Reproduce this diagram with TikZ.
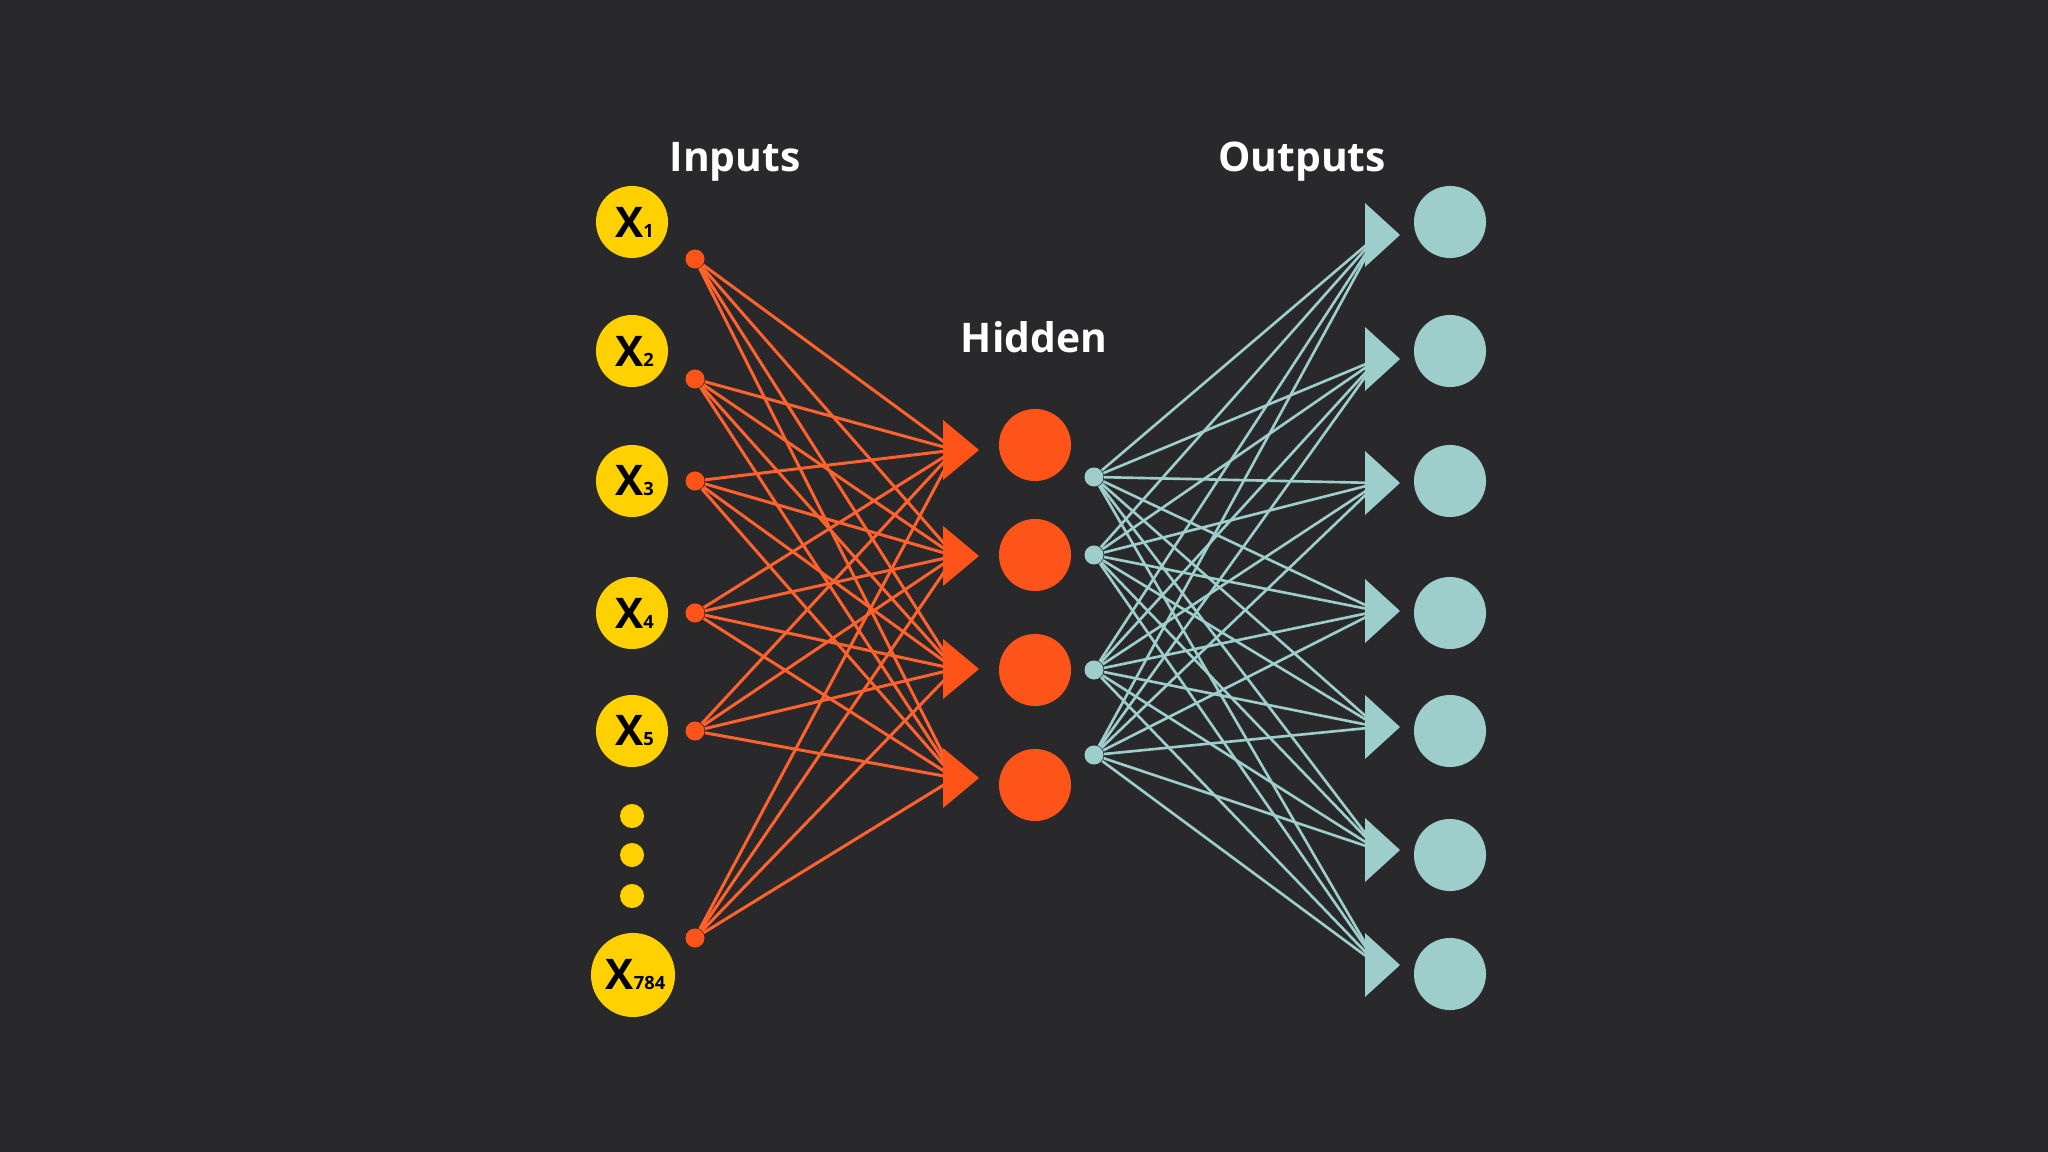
\documentclass[tikz,border=0pt]{standalone}
\usepackage{fontspec}
\setmainfont{Open Sans}
\definecolor{bg}{RGB}{41,41,43}
\definecolor{ylw}{RGB}{255,209,0}
\definecolor{org}{RGB}{255,84,25}
\definecolor{orgline}{RGB}{255,98,45}
\definecolor{tl}{RGB}{158,206,203}
\tikzset{
  inpnode/.style={circle,fill=ylw,minimum size=0.72cm,inner sep=0pt,text=black,font=\bfseries},
  dotnode/.style={circle,fill=ylw,minimum size=0.24cm,inner sep=0pt},
  odot/.style={circle,fill=org,minimum size=0.19cm,inner sep=0pt},
  tdot/.style={circle,fill=tl,minimum size=0.19cm,inner sep=0pt},
  hidnode/.style={circle,fill=org,minimum size=0.72cm,inner sep=0pt},
  outnode/.style={circle,fill=tl,minimum size=0.72cm,inner sep=0pt},
  olink/.style={draw=orgline,line width=0.85pt},
  tlink/.style={draw=tl,line width=0.75pt},
  title/.style={text=white,font=\fontsize{11.6}{14}\selectfont\bfseries,anchor=base,inner sep=0pt},
}
\newcommand{\xlab}[1]{\hspace*{0.05cm}{\fontsize{12}{12}\selectfont X}{\fontsize{5.2}{5.2}\selectfont #1}}
\begin{document}
\begin{tikzpicture}[x=0.01cm,y=-0.01cm]
\fill[bg] (0,0) rectangle (2048,1152);
\useasboundingbox (0,0) rectangle (2048,1152);

% titles
\node[title] (tin) at (735,172) {Inputs};
\node[title] (thid) at (1034,353) {Hidden};
\node[title] (tout) at (1302,172) {Outputs};

% input nodes
\node[inpnode] (x1) at (632,222) {\xlab{1}};
\node[inpnode] (x2) at (632,351) {\xlab{2}};
\node[inpnode] (x3) at (632,481) {\xlab{3}};
\node[inpnode] (x4) at (632,613) {\xlab{4}};
\node[inpnode] (x5) at (632,731) {\xlab{5}};
\node[inpnode,minimum size=0.84cm] (x784) at (633,975) {\xlab{784}};
\node[dotnode] (d1) at (632,816) {};
\node[dotnode] (d2) at (632,855) {};
\node[dotnode] (d3) at (632,896) {};

% orange output dots of inputs
\foreach \k/\y in {1/259,2/379,3/481,4/613,5/731,6/938}
  \node[odot] (i\k) at (695,\y) {};

% hidden triangles
\foreach \j/\y in {1/450,2/556,3/669,4/778}
  \coordinate (h\j) at (955,\y);
\foreach \k in {1,...,6}
  \foreach \j in {1,...,4}
    \draw[olink] (i\k) -- (h\j);
\foreach \j/\y in {1/450,2/556,3/669,4/778}
  \fill[org] (943,\y-30) -- (979,\y) -- (943,\y+30) -- cycle;

% hidden neurons
\foreach \j/\y in {1/445,2/555,3/670,4/785}
  \node[hidnode] (n\j) at (1035,\y) {};

% teal dots
\foreach \k/\y in {1/477,2/555,3/670,4/755}
  \node[tdot] (t\k) at (1094,\y) {};

% output triangles
\foreach \j/\y in {1/235,2/359,3/483,4/611,5/727,6/850,7/965}
  \coordinate (o\j) at (1378,\y);
\foreach \k in {1,...,4}
  \foreach \j in {1,...,7}
    \draw[tlink] (t\k) -- (o\j);
\foreach \j/\y in {1/235,2/359,3/483,4/611,5/727,6/850,7/965}
  \fill[tl] (1365,\y-32) -- (1400,\y) -- (1365,\y+32) -- cycle;

% output neurons
\foreach \j/\y in {1/222,2/351,3/481,4/613,5/731,6/855,7/974}
  \node[outnode] (y\j) at (1450,\y) {};
\end{tikzpicture}
\end{document}
